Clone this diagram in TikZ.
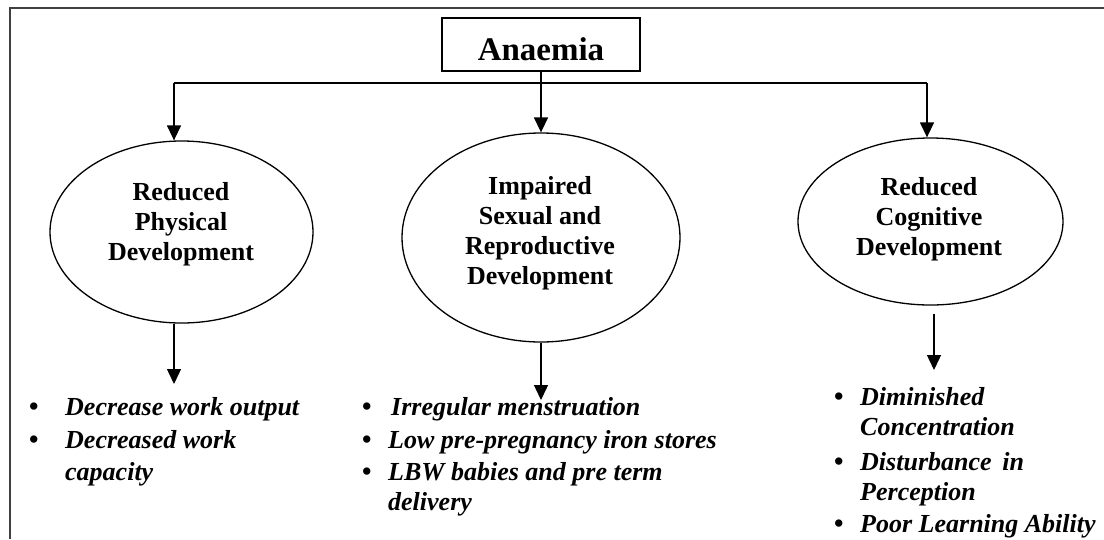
\documentclass[tikz,border=0pt]{standalone}
\usepackage{fontspec}
\setmainfont{Liberation Serif}
\usetikzlibrary{shapes.geometric,arrows.meta}
\begin{document}
\begin{tikzpicture}[x=1pt,y=-1pt,
  frame/.style={draw=black!75, line width=2.4pt},
  conn/.style={line width=1.4pt},
  arr/.style={conn, -{Triangle[width=14pt,length=15pt]}},
  oval/.style={ellipse, draw, line width=1.3pt, inner sep=0pt},
  title/.style={font=\fontsize{26}{30}\selectfont\bfseries, align=center, inner sep=0pt},
  item/.style={anchor=base west, inner sep=0pt, font=\fontsize{26}{30}\selectfont\bfseries\itshape},
  dot/.style={anchor=base west, inner sep=0pt, font=\fontsize{27}{30}\selectfont\bfseries}
]
\useasboundingbox (0,0) rectangle (1104,539);
\draw[frame] (10,539) -- (10,8) -- (1104,8);

% top box
\node[draw, line width=1.3pt, minimum width=198pt, minimum height=53pt, inner sep=0pt,
      text height=31pt, text depth=0pt, font=\fontsize{33}{36}\selectfont\bfseries] (an) at (541,44.5) {Anaemia};

% ellipses
\node[oval, minimum width=263pt, minimum height=182pt] (e1) at (181.5,232) {};
\node[title] (t1) at (181,224) {Reduced\\Physical\\Development};
\node[oval, minimum width=278pt, minimum height=209pt] (e2) at (541,237.5) {};
\node[title] (t2) at (540,233.5) {Impaired\\Sexual and\\Reproductive\\Development};
\node[oval, minimum width=265pt, minimum height=167pt] (e3) at (930.5,221.5) {};
\node[title] (t3) at (929,219) {Reduced\\Cognitive\\Development};

% top connectors
\coordinate (hl) at (174,83);
\coordinate (hr) at (927,83);
\draw[conn] (hl) -- (hr);
\draw[arr] (hl) -- (hl |- e1.north);
\draw[arr] (hr) -- (hr |- e3.north);
\draw[arr] (an.south) -- (e2.north);

% lower connectors
\coordinate (d1) at (174,384);
\coordinate (d2) at (541,400);
\coordinate (d3) at (934,370);
\draw[arr] (e1.south -| d1) -- (d1);
\draw[arr] (e2.south) -- (d2);
\draw[arr, shorten <=8pt] (e3.south -| d3) -- (d3);

% left list
\node[dot] (b11) at (29,415) {\textbullet};
\node[item] (i11) at (65,415) {Decrease work output};
\node[dot] (b12) at (29,448) {\textbullet};
\node[item] (i12) at (65,448) {Decreased work};
\node[item] (i12b) at (65,480) {capacity};

% middle list
\node[dot] (b21) at (362,415) {\textbullet};
\node[item] (i21) at (391,415) {Irregular menstruation};
\node[dot] (b22) at (362,448) {\textbullet};
\node[item] (i22) at (388,448) {Low pre-pregnancy iron stores};
\node[dot] (b23) at (362,480) {\textbullet};
\node[item] (i23) at (388,480) {LBW babies and pre term};
\node[item] (i23b) at (388,510) {delivery};

% right list
\node[dot] (b31) at (834,405) {\textbullet};
\node[item] (i31) at (860,405) {Diminished};
\node[item] (i31b) at (860,435) {Concentration};
\node[dot] (b32) at (834,470) {\textbullet};
\node[item] (i32) at (860,470) {Disturbance\, in};
\node[item] (i32b) at (860,500) {Perception};
\node[dot] (b33) at (834,532) {\textbullet};
\node[item] (i33) at (860,532) {Poor Learning Ability};
\end{tikzpicture}
\end{document}
